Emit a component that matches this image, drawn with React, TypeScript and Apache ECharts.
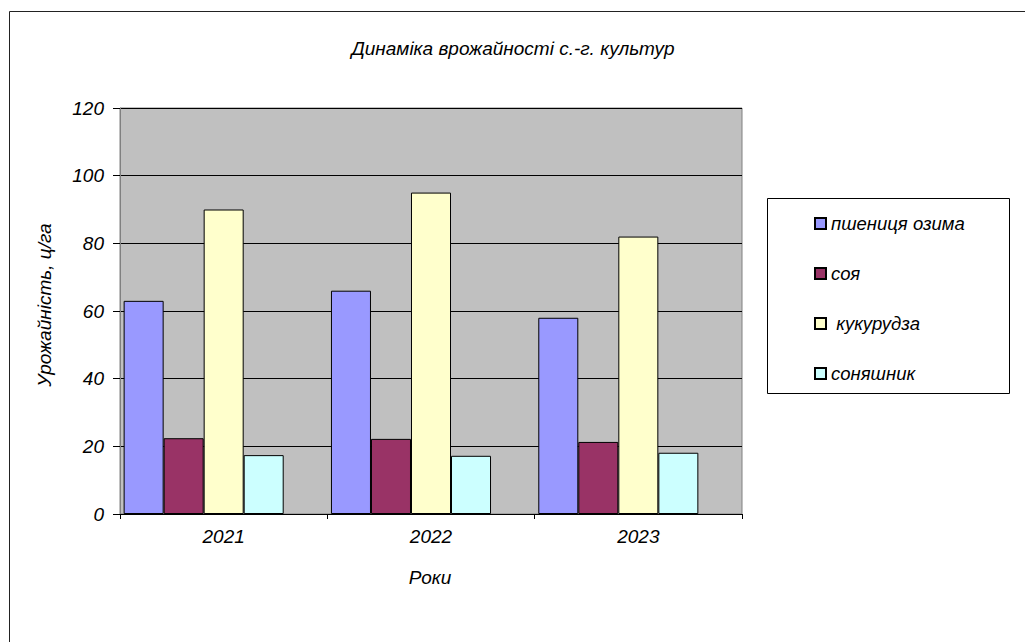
import React, { useEffect, useRef } from "react";
import * as echarts from "echarts";

const years = ["2021", "2022", "2023"];
const seriesNames = ["пшениця озима", "соя", " кукурудза", "соняшник"];
const wheat = [63, 66, 58];
const soy = [22.4, 22.2, 21.3];
const corn = [90, 95, 82];
const sunflower = [17.4, 17.2, 18.1];
const colors = ["#9999FF", "#993366", "#FFFFCC", "#CCFFFF"];
const yTicks = [0, 20, 40, 60, 80, 100, 120];

const FONT = "'Liberation Sans', Arial, sans-serif";

export default function App() {
  const ref = useRef<HTMLDivElement>(null);
  useEffect(() => {
    if (!ref.current) return;
    const chart = echarts.init(ref.current, null, { renderer: "svg" });
    const values = [wheat, soy, corn, sunflower];
    const series: any[] = values.map((d, i) => ({
      name: seriesNames[i],
      type: "bar",
      data: d,
      barGap: "0%",
      barCategoryGap: "3.5%",
      itemStyle: { color: colors[i], borderColor: "#000", borderWidth: 1 },
      emphasis: { disabled: true },
    }));
    series.push({
      name: "_pad",
      type: "bar",
      data: [],
      barGap: "0%",
      barCategoryGap: "3.5%",
    });
    chart.setOption({
      animation: false,
      textStyle: { fontFamily: FONT },
      grid: {
        left: 120,
        top: 108,
        right: 283,
        bottom: 128,
        show: true,
        backgroundColor: "#C0C0C0",
        borderColor: "#808080",
        borderWidth: 1,
      },
      legend: {
        data: seriesNames,
        orient: "vertical",
        left: 814,
        top: 214,
        padding: 0,
        itemWidth: 11,
        itemHeight: 11,
        itemGap: 31,
        icon: "rect",
        textStyle: {
          fontFamily: FONT,
          fontStyle: "italic",
          fontSize: 18.5,
          color: "#000",
        },
      },
      xAxis: {
        type: "category",
        data: years,
        axisLine: { show: true, lineStyle: { color: "#000", width: 1 } },
        axisTick: { show: true, length: 5, lineStyle: { color: "#000" } },
        axisLabel: {
          interval: 0,
          margin: 13,
          fontFamily: FONT,
          fontStyle: "italic",
          fontSize: 19,
          color: "#000",
        },
      },
      yAxis: {
        type: "value",
        min: yTicks[0],
        max: yTicks[yTicks.length - 1],
        interval: 20,
        axisLine: { show: true, lineStyle: { color: "#808080", width: 1 } },
        axisTick: { show: true, length: 7, lineStyle: { color: "#000" } },
        axisLabel: {
          margin: 16,
          fontFamily: FONT,
          fontStyle: "italic",
          fontSize: 19,
          color: "#000",
        },
        splitLine: { show: true, lineStyle: { color: "#000", width: 1 } },
      },
      graphic: [
        {
          type: "rect",
          shape: { x: 9.5, y: 11.5, width: 1040, height: 660 },
          style: { fill: "none", stroke: "#222", lineWidth: 1 },
          silent: true,
          z: -10,
        },
        {
          type: "rect",
          shape: { x: 767.5, y: 198.5, width: 242, height: 195 },
          style: { fill: "#fff", stroke: "#000", lineWidth: 1 },
          silent: true,
          z: -5,
        },
        {
          type: "text",
          x: 513,
          y: 48,
          style: {
            text: "Динаміка врожайності с.-г. культур",
            font: `italic 19px ${FONT}`,
            fill: "#000",
            align: "center",
            verticalAlign: "middle",
          },
        },
        {
          type: "text",
          x: 430,
          y: 577,
          style: {
            text: "Роки",
            font: `italic 19px ${FONT}`,
            fill: "#000",
            align: "center",
            verticalAlign: "middle",
          },
        },
        {
          type: "text",
          x: 44,
          y: 305,
          rotation: Math.PI / 2,
          style: {
            text: "Урожайність, ц/га",
            font: `italic 19px ${FONT}`,
            fill: "#000",
            align: "center",
            verticalAlign: "middle",
          },
        },
      ],
      series,
    });
    return () => chart.dispose();
  }, []);
  return (
    <div
      ref={ref}
      style={{ position: "absolute", left: 0, top: 0, width: 1025, height: 642, background: "#fff" }}
    />
  );
}
